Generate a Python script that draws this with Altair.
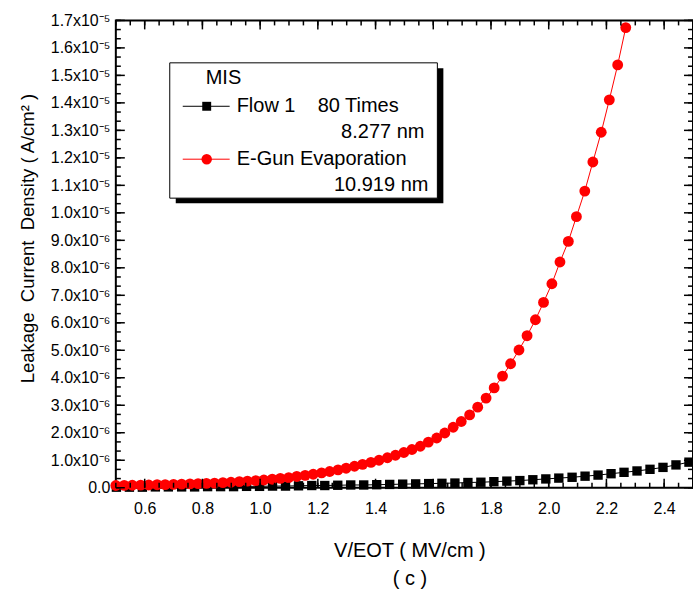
import altair as alt
import pandas as pd

# E-Gun evaporated film (10.919 nm): field (MV/cm) and leakage current density (x1e-6 A/cm^2)
egun_x = [0.500, 0.529, 0.557, 0.586, 0.614, 0.643, 0.671, 0.700, 0.728, 0.757,
          0.785, 0.814, 0.842, 0.871, 0.899, 0.928, 0.956, 0.985, 1.013, 1.042,
          1.070, 1.099, 1.127, 1.156, 1.184, 1.213, 1.241, 1.270, 1.298, 1.327,
          1.355, 1.384, 1.412, 1.441, 1.469, 1.498, 1.526, 1.555, 1.583, 1.612,
          1.640, 1.669, 1.697, 1.726, 1.754, 1.783, 1.811, 1.840, 1.868, 1.897,
          1.925, 1.954, 1.982, 2.011, 2.039, 2.068, 2.096, 2.125, 2.153, 2.182,
          2.210, 2.239, 2.267]
egun_j = [0.08, 0.085, 0.09, 0.095, 0.10, 0.11, 0.115, 0.12, 0.13, 0.14,
          0.15, 0.16, 0.17, 0.185, 0.20, 0.22, 0.24, 0.26, 0.28, 0.31,
          0.34, 0.37, 0.41, 0.45, 0.49, 0.54, 0.59, 0.65, 0.71, 0.78,
          0.85, 0.92, 1.00, 1.09, 1.18, 1.28, 1.39, 1.51, 1.66, 1.81,
          1.99, 2.20, 2.41, 2.65, 2.93, 3.26, 3.63, 4.06, 4.51, 5.01,
          5.53, 6.11, 6.74, 7.42, 8.21, 8.96, 9.86, 10.79, 11.85, 12.93,
          14.11, 15.38, 16.74]

# Flow 1, 80 times (8.277 nm)
flow_x = [0.502, 0.547, 0.592, 0.637, 0.682, 0.728, 0.773, 0.818, 0.863, 0.908,
          0.953, 0.998, 1.043, 1.088, 1.133, 1.179, 1.224, 1.269, 1.314, 1.359,
          1.404, 1.449, 1.494, 1.539, 1.584, 1.630, 1.675, 1.720, 1.765, 1.810,
          1.855, 1.900, 1.945, 1.990, 2.035, 2.081, 2.126, 2.171, 2.216, 2.261,
          2.306, 2.351, 2.396, 2.441, 2.486]
flow_j = [0.02, 0.02, 0.02, 0.03, 0.03, 0.03, 0.03, 0.04, 0.04, 0.04,
          0.05, 0.05, 0.06, 0.06, 0.07, 0.08, 0.08, 0.09, 0.10, 0.10,
          0.11, 0.12, 0.13, 0.14, 0.15, 0.16, 0.17, 0.19, 0.20, 0.22,
          0.24, 0.26, 0.29, 0.32, 0.35, 0.38, 0.42, 0.46, 0.51, 0.56,
          0.61, 0.67, 0.74, 0.83, 0.93]

x_major = [0.6, 0.8, 1.0, 1.2, 1.4, 1.6, 1.8, 2.0, 2.2, 2.4]
x_minor = [round(0.5 + 0.05 * k, 2) for k in range(41)]
y_major = list(range(18))
y_minor = [round(k / 3, 4) for k in range(52)]

W, H = 578, 468
FONT = "Liberation Sans"

xs = alt.Scale(domain=[0.5, 2.5], nice=False, zero=False)
ys = alt.Scale(domain=[0, 17], nice=False)

egun = pd.DataFrame({"x": egun_x, "j": egun_j})
flow = pd.DataFrame({"x": flow_x, "j": flow_j})

y_label = ("datum.value == 0 ? '0.0' : (datum.value >= 10 ? "
           "format(datum.value / 10, '.1f') + 'x10\u207b\u2075' : "
           "format(datum.value, '.1f') + 'x10\u207b\u2076')")

x_axis = alt.Axis(values=x_major, format=".1f", ticks=False, domain=False, grid=False,
                  labelPadding=13, labelFontSize=16, labelFont=FONT, labelColor="black",
                  title=["V/EOT ( MV/cm )", "( c )"], titleFont=FONT, titleFontSize=20,
                  titleFontWeight="normal", titleColor="black", titleLineHeight=28,
                  titleX=294, titleY=53, titleBaseline="top", titleAlign="center")
y_axis = alt.Axis(values=y_major, labelExpr=y_label, ticks=False, domain=False, grid=False,
                  labelPadding=6, labelFontSize=16, labelFont=FONT, labelColor="black",
                  title="Leakage\u00a0\u00a0Current\u00a0\u00a0Density ( A/cm\u00b2 )",
                  titleFont=FONT, titleFontSize=18.5, titleFontWeight="normal",
                  titleColor="black", titleX=-88, titleY=218, titleBaseline="middle",
                  titleAlign="center", titleAngle=-90)

X = alt.X("x:Q", scale=xs, axis=x_axis)
Y = alt.Y("j:Q", scale=ys, axis=y_axis)

flow_line = alt.Chart(flow).mark_line(color="black", strokeWidth=1).encode(x=X, y=Y)
flow_pts = alt.Chart(flow).mark_point(shape="square", filled=True, color="black",
                                      size=88, opacity=1).encode(x=X, y=Y)
egun_line = alt.Chart(egun).mark_line(color="#ff0000", strokeWidth=1).encode(x=X, y=Y)
egun_pts = alt.Chart(egun).mark_point(shape="circle", filled=True, color="#ff0000",
                                      size=118, opacity=1).encode(x=X, y=Y)


def xticks(vals, length):
    df = pd.DataFrame({"x": vals})
    bottom = alt.Chart(df).mark_rule(color="black", strokeWidth=1.5).encode(
        x=X, y=alt.value(H), y2=alt.value(H - length))
    top = alt.Chart(df).mark_rule(color="black", strokeWidth=1.5).encode(
        x=X, y=alt.value(0), y2=alt.value(length))
    return [bottom, top]


def yticks(vals, length):
    df = pd.DataFrame({"j": vals})
    left = alt.Chart(df).mark_rule(color="black", strokeWidth=1.5).encode(
        y=Y, x=alt.value(0), x2=alt.value(length))
    right = alt.Chart(df).mark_rule(color="black", strokeWidth=1.5).encode(
        y=Y, x=alt.value(W - length), x2=alt.value(W))
    return [left, right]


tick_layers = (xticks(x_minor, 5) + xticks(x_major, 9)
               + yticks(y_minor, 5) + yticks(y_major, 9))

# legend panel with drop shadow
one = pd.DataFrame({"k": [0]})
shadow = alt.Chart(one).mark_rect(color="black").encode(
    x=alt.value(60), x2=alt.value(328), y=alt.value(48), y2=alt.value(183))
box = alt.Chart(one).mark_rect(fill="white", stroke="black", strokeWidth=1).encode(
    x=alt.value(54), x2=alt.value(322), y=alt.value(42.5), y2=alt.value(178))
leg_flow_line = alt.Chart(one).mark_rule(color="black", strokeWidth=1).encode(
    x=alt.value(67), x2=alt.value(114), y=alt.value(86))
leg_flow_pt = alt.Chart(one).mark_point(shape="square", filled=True, color="black",
                                        size=80, opacity=1).encode(
    x=alt.value(91), y=alt.value(86))
leg_egun_line = alt.Chart(one).mark_rule(color="#ff0000", strokeWidth=1).encode(
    x=alt.value(67), x2=alt.value(114), y=alt.value(139))
leg_egun_pt = alt.Chart(one).mark_point(shape="circle", filled=True, color="#ff0000",
                                        size=110, opacity=1).encode(
    x=alt.value(91), y=alt.value(139))


def label(txt, x, y, align="left"):
    return alt.Chart(one).mark_text(align=align, baseline="middle", fontSize=20,
                                    font=FONT, color="black").encode(
        x=alt.value(x), y=alt.value(y), text=alt.value(txt))


legend = [shadow, box, leg_flow_line, leg_flow_pt, leg_egun_line, leg_egun_pt,
          label("MIS", 90, 58),
          label("Flow 1\u00a0\u00a0\u00a0 80 Times", 121, 86),
          label("8.277 nm", 309, 112, "right"),
          label("E-Gun Evaporation", 121, 139),
          label("10.919 nm", 313, 165, "right")]

chart = alt.layer(flow_line, flow_pts, egun_line, egun_pts, *tick_layers, *legend).properties(
    width=W, height=H,
    autosize=alt.AutoSizeParams(type="none"),
    padding={"left": 116, "top": 20, "right": 0, "bottom": 109},
    background="white",
).configure_view(stroke="black", strokeWidth=2)

chart.save("out.html", embed_options={"renderer": "svg", "actions": False})
